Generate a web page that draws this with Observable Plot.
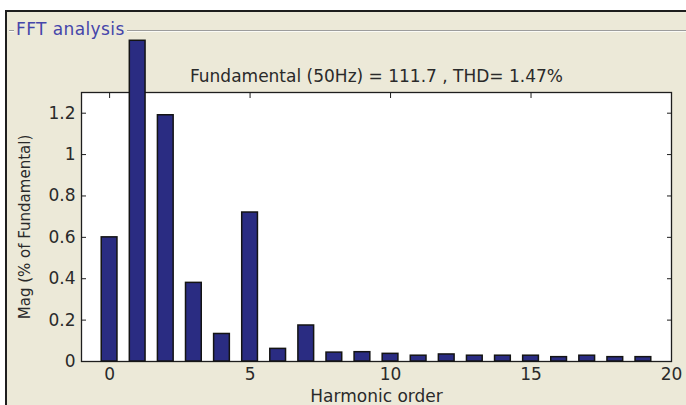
<!DOCTYPE html>
<html>
<head>
<meta charset="utf-8">
<script src="https://cdn.jsdelivr.net/npm/d3@7"></script>
<script src="https://cdn.jsdelivr.net/npm/@observablehq/plot@0.6"></script>
<style>
  html, body { margin: 0; padding: 0; background: #ffffff; }
  #wrap { position: relative; width: 686px; height: 405px; overflow: hidden; }
  #panel { position: absolute; left: 5px; top: 10px; right: 0; bottom: 0; background: #ece9d8;
           border-left: 2px solid #1e1e1e; border-top: 2px solid #1e1e1e; }
  #groupline { position: absolute; left: 9px; top: 30px; right: 0; height: 0;
               border-top: 1px solid #9c9c9c; border-bottom: 1px solid #fbfbf6; }
  #legend { position: absolute; left: 14px; top: 21px; padding: 0 2px; background: #ece9d8;
            color: #4545aa; font-family: "DejaVu Sans", sans-serif; font-size: 17px; line-height: 17px;
            letter-spacing: 0.4px; white-space: nowrap; }
  #chart { position: absolute; left: 0; top: 0; }
</style>
</head>
<body>
<div id="wrap">
  <div id="panel"></div>
  <div id="groupline"></div>
  <div id="legend">FFT analysis</div>
  <div id="chart"></div>
</div>
<script>
// ---- data ----
const harmonics = [0, 1, 2, 3, 4, 5, 6, 7, 8, 9, 10, 11, 12, 13, 14, 15, 16, 17, 18, 19];
const magnitudes = [0.60, 1.55, 1.19, 0.38, 0.133, 0.72, 0.061, 0.174, 0.043, 0.045,
                    0.037, 0.028, 0.034, 0.028, 0.028, 0.028, 0.021, 0.028, 0.021, 0.021];
const xTicks = [0, 5, 10, 15, 20];
const yTicks = [0, 0.2, 0.4, 0.6, 0.8, 1, 1.2];
const titleText = "Fundamental (50Hz) = 111.7 , THD= 1.47%";
const xLabel = "Harmonic order";
const yLabel = "Mag (% of Fundamental)";

const data = harmonics.map((h, i) => ({h, mag: magnitudes[i]}));
const halfWidth = 0.28;
const ink = "#2a2a2a";

const chart = Plot.plot({
  width: 686,
  height: 405,
  marginLeft: 81,
  marginRight: 15,
  marginTop: 92,
  marginBottom: 44,
  style: {background: "transparent", fontFamily: "DejaVu Sans, sans-serif", fontSize: "17px", color: ink, overflow: "visible"},
  x: {domain: [-1, 20]},
  y: {domain: [0, 1.3]},
  marks: [
    Plot.frame({fill: "white", stroke: "#1e1e1e", strokeWidth: 1.3}),
    Plot.axisX(xTicks, {anchor: "bottom", tickSize: -5, tickPadding: 11, tickFormat: d => String(d), label: null, stroke: "#1e1e1e"}),
    Plot.axisX(xTicks, {anchor: "top", tickSize: -5, tickFormat: () => "", label: null, stroke: "#1e1e1e"}),
    Plot.axisY(yTicks, {anchor: "left", tickSize: -5, tickPadding: 11, tickFormat: d => String(d), label: null, stroke: "#1e1e1e"}),
    Plot.axisY(yTicks, {anchor: "right", tickSize: -5, tickFormat: () => "", label: null, stroke: "#1e1e1e"}),
    Plot.rectY(data, {
      x1: d => d.h - halfWidth,
      x2: d => d.h + halfWidth,
      y: "mag",
      fill: "#2a2c82",
      stroke: "#141414",
      strokeWidth: 1.5,
      clip: false
    }),
    Plot.text([titleText], {frameAnchor: "top", lineAnchor: "bottom", dy: -11, fontSize: 17, fill: ink}),
    Plot.text([xLabel], {frameAnchor: "bottom", lineAnchor: "bottom", dy: 40, fontSize: 17, fill: ink}),
    Plot.text([yLabel], {frameAnchor: "left", textAnchor: "middle", rotate: -90, dx: -56, fontSize: 15, fill: ink})
  ]
});
document.getElementById("chart").appendChild(chart);
</script>
</body>
</html>
